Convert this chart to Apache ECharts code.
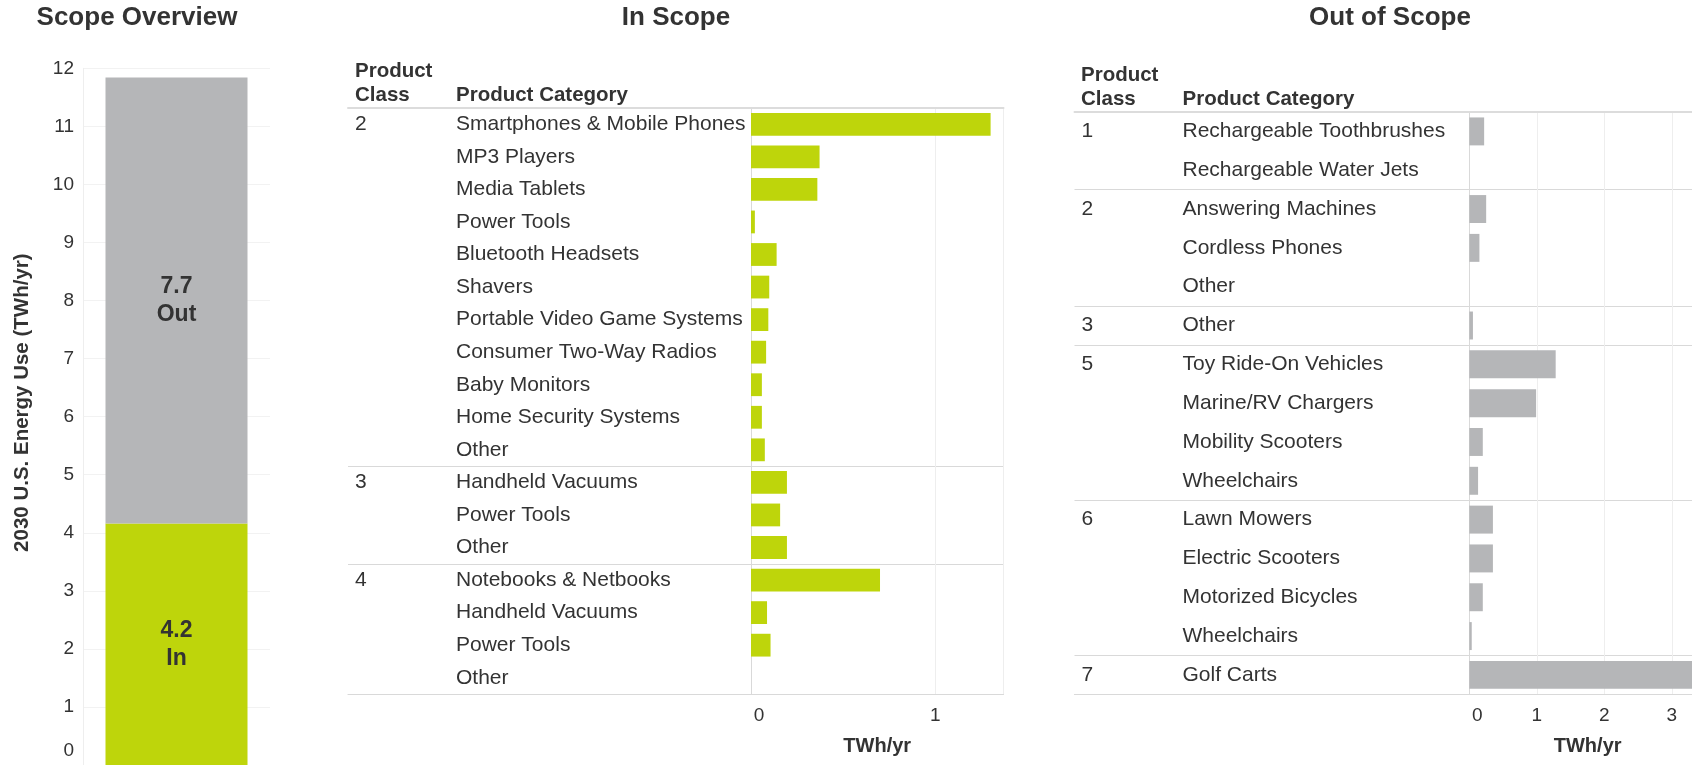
<!DOCTYPE html>
<html><head><meta charset="utf-8">
<script src="https://cdn.jsdelivr.net/npm/echarts@6/dist/echarts.min.js"></script>
<style>html,body{margin:0;padding:0;background:#fff}#c{width:1692px;height:765px}</style>
</head><body><div id="c"></div>
<script>
// ---- data ----
const scopeNames = ['In', 'Out'];
const scopeValues = [4.16, 7.68];

const inClass = ['2','2','2','2','2','2','2','2','2','2','2','3','3','3','4','4','4','4'];
const inCategory = ['Smartphones & Mobile Phones','MP3 Players','Media Tablets','Power Tools','Bluetooth Headsets','Shavers','Portable Video Game Systems','Consumer Two-Way Radios','Baby Monitors','Home Security Systems','Other','Handheld Vacuums','Power Tools','Other','Notebooks & Netbooks','Handheld Vacuums','Power Tools','Other'];
const inValues = [1.30,0.372,0.36,0.021,0.139,0.099,0.094,0.082,0.059,0.059,0.075,0.195,0.158,0.195,0.70,0.087,0.106,0];

const outClass = ['1','1','2','2','2','3','5','5','5','5','6','6','6','6','7'];
const outCategory = ['Rechargeable Toothbrushes','Rechargeable Water Jets','Answering Machines','Cordless Phones','Other','Other','Toy Ride-On Vehicles','Marine/RV Chargers','Mobility Scooters','Wheelchairs','Lawn Mowers','Electric Scooters','Motorized Bicycles','Wheelchairs','Golf Carts'];
const outValues = [0.22,0,0.25,0.15,0,0.054,1.28,0.99,0.20,0.13,0.35,0.35,0.20,0.036,3.5];

// ---- styles ----
const FONT = '"Liberation Sans", Arial, sans-serif';
const TXT = '#333333';
const GREEN = '#bed50b';
const GREY = '#b5b6b8';
const SEP = '#d9d9d9';

const firstOfGroup = (arr) => (idx) => idx > 0 && arr[idx] !== arr[idx - 1];
const groupLabel = (arr) => (val, idx) => (idx === 0 || arr[idx] !== arr[idx - 1]) ? val : '';

function title(text, x, y, size, align, vAlign, lh) {
  return { text, left: x, top: y, padding: 0, textAlign: align, textVerticalAlign: vAlign,
    textStyle: { fontFamily: FONT, fontSize: size, fontWeight: 'bold', color: TXT, lineHeight: lh || size } };
}

function edgeAxis(grid, pos, width, max) {
  return { type: 'value', gridIndex: grid, position: pos, min: 0, max: max,
    axisLine: { show: true, lineStyle: { color: pos === 'top' ? '#dcdcdc' : SEP, width: width } },
    axisTick: { show: false }, axisLabel: { show: false }, splitLine: { show: false } };
}

function valueAxis(grid, max, namePad) {
  return { type: 'value', gridIndex: grid, position: 'bottom', min: 0, max: max, interval: 1,
    axisLine: { show: true, lineStyle: { color: SEP } }, axisTick: { show: false },
    axisLabel: { fontFamily: FONT, fontSize: 19, color: TXT, margin: 12, showMaxLabel: false,
      formatter: v => v === 0 ? '{z|0}' : String(v),
      rich: { z: { fontFamily: FONT, fontSize: 19, color: TXT, padding: [0, 0, 0, 16] } } },
    splitLine: { show: true, lineStyle: { color: '#eeeeee' } },
    name: 'TWh/yr', nameLocation: 'middle', nameGap: 42,
    nameTextStyle: { fontFamily: FONT, fontSize: 20, fontWeight: 'bold', color: TXT, padding: [0, 0, 0, namePad] } };
}

const option = {
  animation: false,
  textStyle: { fontFamily: FONT },
  title: [
    title('Scope Overview', 137, 18, 26, 'center', 'middle'),
    title('In Scope', 676, 18, 26, 'center', 'middle'),
    title('Out of Scope', 1390, 18, 26, 'center', 'middle'),
    title('Product\nClass', 355, 59, 20.5, 'left', 'top', 24),
    title('Product Category', 456, 83, 20.5, 'left', 'top', 24),
    title('Product\nClass', 1081, 63.5, 20.5, 'left', 'top', 24),
    title('Product Category', 1182.5, 87.5, 20.5, 'left', 'top', 24)
  ],
  grid: [
    { left: 83, top: 68.3, width: 187, bottom: 0 },
    { left: 348, top: 108, width: 403, height: 586 },
    { left: 751, top: 108, width: 252.5, height: 586 },
    { left: 1074.5, top: 112, width: 394.8, height: 582.3 },
    { left: 1469.3, top: 112, right: 0, height: 582.3 }
  ],
  xAxis: [
    { type: 'category', gridIndex: 0, data: ['2030'], show: false },
    edgeAxis(1, 'bottom', 1.2, 1),
    edgeAxis(1, 'top', 2, 1),
    valueAxis(2, 1.37, 0),
    edgeAxis(2, 'top', 2, 1.37),
    edgeAxis(3, 'bottom', 1.2, 1),
    edgeAxis(3, 'top', 2, 1),
    valueAxis(4, 3.3, 14),
    edgeAxis(4, 'top', 2, 3.3)
  ],
  yAxis: [
    { type: 'value', gridIndex: 0, min: 0, max: 12, interval: 1,
      axisLine: { show: true, lineStyle: { color: '#eeeeee' } }, axisTick: { show: false },
      axisLabel: { fontFamily: FONT, fontSize: 19, color: TXT, margin: 9,
        formatter: v => v === 0 ? '{z|0}' : String(v),
        rich: { z: { fontFamily: FONT, fontSize: 19, color: TXT, padding: [0, 0, 28, 0] } } },
      splitLine: { show: true, lineStyle: { color: '#f2f2f2' } },
      name: '2030 U.S. Energy Use (TWh/yr)', nameLocation: 'middle', nameGap: 50, nameRotate: 90,
      nameTextStyle: { fontFamily: FONT, fontSize: 20.5, fontWeight: 'bold', color: TXT, padding: [0, 0, 0, 28] } },
    { type: 'category', gridIndex: 1, data: inClass, inverse: true,
      axisLine: { show: false }, axisTick: { show: false },
      axisLabel: { inside: true, margin: 7, interval: 0, fontFamily: FONT, fontSize: 21, color: TXT, formatter: groupLabel(inClass) },
      splitLine: { show: true, interval: firstOfGroup(inClass), lineStyle: { color: SEP, width: 1.2 } } },
    { type: 'category', gridIndex: 2, data: inCategory, inverse: true,
      axisLine: { show: true, lineStyle: { color: SEP } }, axisTick: { show: false },
      axisLabel: { margin: 295, align: 'left', interval: 0, fontFamily: FONT, fontSize: 21, color: TXT },
      splitLine: { show: true, interval: firstOfGroup(inClass), lineStyle: { color: SEP, width: 1.2 } } },
    { type: 'category', gridIndex: 2, data: inCategory, inverse: true, position: 'right',
      axisLine: { show: true, lineStyle: { color: SEP } }, axisTick: { show: false },
      axisLabel: { show: false }, splitLine: { show: false } },
    { type: 'category', gridIndex: 3, data: outClass, inverse: true,
      axisLine: { show: false }, axisTick: { show: false },
      axisLabel: { inside: true, margin: 7, interval: 0, fontFamily: FONT, fontSize: 21, color: TXT, formatter: groupLabel(outClass) },
      splitLine: { show: true, interval: firstOfGroup(outClass), lineStyle: { color: SEP, width: 1.2 } } },
    { type: 'category', gridIndex: 4, data: outCategory, inverse: true,
      axisLine: { show: true, lineStyle: { color: SEP } }, axisTick: { show: false },
      axisLabel: { margin: 286.8, align: 'left', interval: 0, fontFamily: FONT, fontSize: 21, color: TXT },
      splitLine: { show: true, interval: firstOfGroup(outClass), lineStyle: { color: SEP, width: 1.2 } } }
  ],
  series: [
    { type: 'bar', name: scopeNames[0], xAxisIndex: 0, yAxisIndex: 0, stack: 'total', barWidth: 142,
      data: [scopeValues[0]], itemStyle: { color: GREEN },
      label: { show: true, position: 'inside', formatter: p => p.value.toFixed(1) + '\n' + p.seriesName,
        fontFamily: FONT, fontSize: 23, fontWeight: 'bold', color: TXT, lineHeight: 28 } },
    { type: 'bar', name: scopeNames[1], xAxisIndex: 0, yAxisIndex: 0, stack: 'total', barWidth: 142,
      data: [scopeValues[1]], itemStyle: { color: GREY },
      label: { show: true, position: 'inside', formatter: p => p.value.toFixed(1) + '\n' + p.seriesName,
        fontFamily: FONT, fontSize: 23, fontWeight: 'bold', color: TXT, lineHeight: 28 } },
    { type: 'bar', name: 'In Scope', xAxisIndex: 3, yAxisIndex: 2, data: inValues, barWidth: '70%',
      itemStyle: { color: GREEN } },
    { type: 'bar', name: 'Out of Scope', xAxisIndex: 7, yAxisIndex: 5, data: outValues, barWidth: '72%',
      itemStyle: { color: GREY } }
  ]
};

const chart = echarts.init(document.getElementById('c'), null, { renderer: 'canvas' });
chart.setOption(option);
</script>
</body></html>
